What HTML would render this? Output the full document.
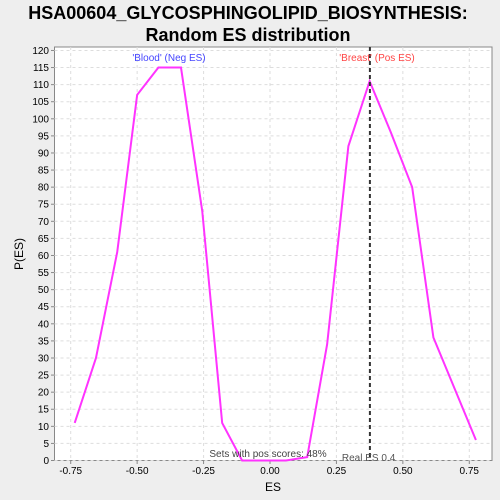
<!DOCTYPE html>
<html><head><meta charset="utf-8"><style>
body{margin:0;background:#eeeeee;}
svg{display:block;font-family:"Liberation Sans","DejaVu Sans",sans-serif;}
</style></head><body>
<svg id="chart" width="500" height="500" xmlns="http://www.w3.org/2000/svg">
<rect width="500" height="500" fill="#eeeeee"/>
<text x="248" y="19" text-anchor="middle" font-size="18" font-weight="bold" fill="#000">HSA00604_GLYCOSPHINGOLIPID_BIOSYNTHESIS:</text>
<text x="248" y="41" text-anchor="middle" font-size="18" font-weight="bold" fill="#000">Random ES distribution</text>
<rect x="54.5" y="47" width="437.5" height="413.5" fill="#fff" stroke="#888"/>
<g id="grid"></g>
<g id="axes"></g>
<polyline id="line" fill="none" stroke="#ff33ff" stroke-width="2"/>
<line id="realLine" y1="47" y2="460.5" stroke="#333" stroke-width="2" stroke-dasharray="4,3"/>
<text x="169" y="61" text-anchor="middle" font-size="10" fill="#4444ff">'Blood' (Neg ES)</text>
<text x="377" y="61" text-anchor="middle" font-size="10" fill="#ff4444">'Breast' (Pos ES)</text>
<text x="268" y="457" text-anchor="middle" font-size="10" fill="#444">Sets with pos scores: 48%</text>
<text id="realLabel" y="461" font-size="10" fill="#555">Real ES 0.4</text>
<text x="273" y="491" text-anchor="middle" font-size="12" fill="#000">ES</text>
<text x="23" y="254" text-anchor="middle" font-size="12" fill="#000" transform="rotate(-90 23 254)">P(ES)</text>
</svg>
<script>
const esValues=[-0.735,-0.655,-0.575,-0.5,-0.42,-0.335,-0.255,-0.18,-0.105,-0.025,0.06,0.14,0.215,0.295,0.375,0.455,0.535,0.615,0.695,0.775];
const counts=[11,30,61,107,115,115,73,11,0,0,0,1,34,92,111,96,80,36,21,6];
const xTicks=[-0.75,-0.5,-0.25,0,0.25,0.5,0.75];
const xTickLabels=["-0.75","-0.50","-0.25","0.00","0.25","0.50","0.75"];
const yTicks=[0,5,10,15,20,25,30,35,40,45,50,55,60,65,70,75,80,85,90,95,100,105,110,115,120];
const realES=0.376;
const NS="http://www.w3.org/2000/svg";
const X=v=>270+v*265.7, Y=v=>460.5-v*3.417;
const grid=document.getElementById('grid'), axes=document.getElementById('axes');
function mk(t,a,p){const e=document.createElementNS(NS,t);for(const k in a)e.setAttribute(k,a[k]);p.appendChild(e);return e;}
xTicks.forEach((v,i)=>{
 const g=mk('line',{x1:X(v),x2:X(v),y1:47,y2:460.5,stroke:'#ddd','stroke-dasharray':'3,3'},grid);
 
 
 const tk=mk('line',{x1:X(v),x2:X(v),y1:460.5,y2:464,stroke:'#888'},axes);
 
 
 const t=mk('text',{x:X(v),y:474,'text-anchor':'middle','font-size':'10',fill:'#000'},axes);
 t.textContent=xTickLabels[i];
 
 
});
yTicks.forEach(v=>{
 const g=mk('line',{x1:54.5,x2:492,y1:Y(v),y2:Y(v),stroke:'#ddd','stroke-dasharray':'3,3'},grid);
 
 
 const tk=mk('line',{x1:51,x2:54.5,y1:Y(v),y2:Y(v),stroke:'#888'},axes);
 
 
 const t=mk('text',{x:49,y:Y(v)+3.5,'text-anchor':'end','font-size':'10',fill:'#000'},axes);
 t.textContent=v;
 
 
});
document.getElementById('line').setAttribute('points',esValues.map((v,i)=>X(v)+','+Y(counts[i])).join(' '));
const rl=document.getElementById('realLine');rl.setAttribute('x1',X(realES));rl.setAttribute('x2',X(realES));
document.getElementById('realLabel').setAttribute('x',X(realES)-28);
</script>
</body></html>
